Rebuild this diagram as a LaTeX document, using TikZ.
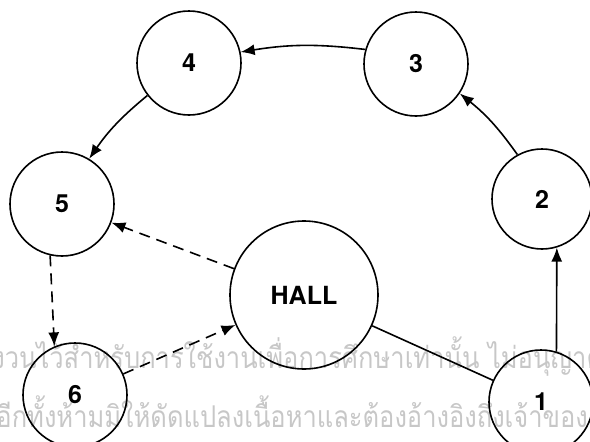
\documentclass[tikz,border=0pt]{standalone}
\usepackage{fontspec}
\setsansfont{TeX Gyre Heros}
\newfontfamily\thaifont[Script=Thai, FakeStretch=0.85]{Loma}
\usetikzlibrary{arrows.meta}

\begin{document}
\begin{tikzpicture}[x=1pt, y=1pt, >={Latex[length=14pt,width=11pt]}, line width=1.6pt,
    every node/.style={font=\sffamily\bfseries\fontsize{25}{25}\selectfont},
    room/.style={draw, circle, inner sep=0pt, minimum size=104pt},
    walk/.style={->, dash pattern=on 11pt off 7pt}]
    \useasboundingbox (0,0) rectangle (590,-442);
    \clip (0,0) rectangle (590,-442);

    % watermark behind the plan
    \node[font=\thaifont\fontsize{30}{30}\selectfont, text=black!22, anchor=base west, inner sep=0pt] (mark1) at (4,-368) {\llap{สง}วนไว้สำหรับการใช้งานเพื่อการศึกษาเท่านั้น ไม่อนุญาต};
    \node[font=\thaifont\fontsize{30}{30}\selectfont, text=black!22, anchor=base west, inner sep=0pt] (mark2) at (11,-427) {\llap{อี}กทั้งห้ามมิให้ดัดแปลงเนื้อหาและต้องอ้างอิงถึงเจ้าของ};

    % rooms round the hall
    \node[room] (n4) at (189,-63) {4};
    \node[room] (n3) at (416,-64) {3};
    \node[room, minimum size=100pt] (n2) at (542,-199) {2};
    \node[room] (n5) at (62,-204) {5};
    \node[room, minimum size=148pt] (hall) at (304,-295) {HALL};
    \node[room] (n6) at (75,-395) {6};
    \node[room] (n1) at (541,-402) {1};

    % route from room to room
    \draw[->] (n1.73) -- (n2.-73);
    \draw[->] (n2.119) to[bend right=8] (n3.-34);
    \draw[->] (n3.164) to[bend right=8] (n4.12);
    \draw[->] (n4.218) to[bend right=8] (n5.59);

    % ways through the hall
    \draw[walk] (hall) -- (n5);
    \draw[walk] (n5.257) -- (n6.113);
    \draw[walk] (n6) -- (hall);
    \draw (hall) -- (n1);
\end{tikzpicture}
\end{document}
